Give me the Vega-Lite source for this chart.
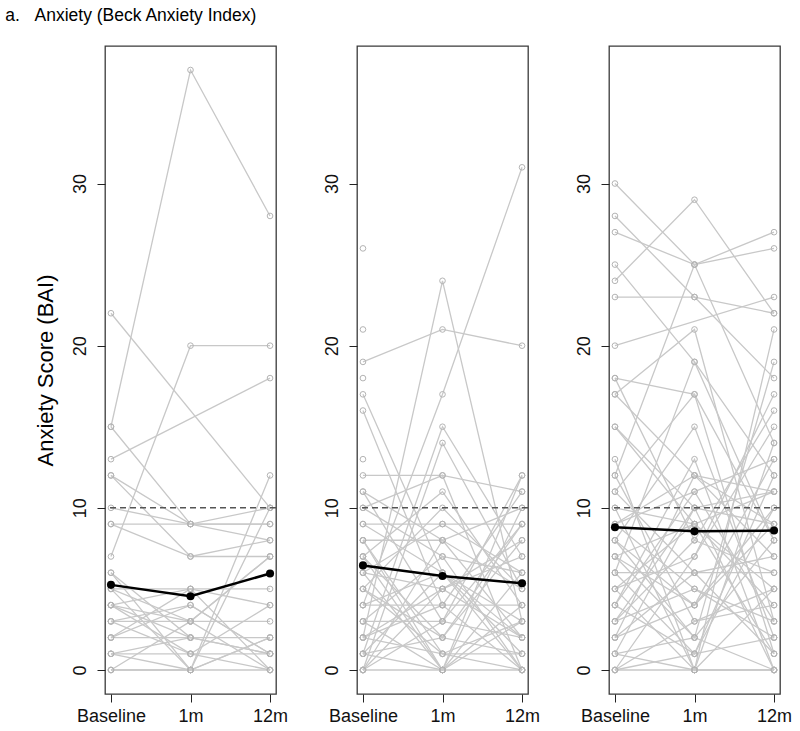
{
  "$schema": "https://vega.github.io/schema/vega-lite/v6.json",
  "background": "white",
  "padding": {"left": 5, "top": 6, "right": 5, "bottom": 5},
  "config": {
    "font": "Liberation Sans",
    "view": {"stroke": "#3a3a3a", "strokeWidth": 1.3},
    "axis": {"grid": false, "domain": false, "tickColor": "#222", "tickSize": 8, "tickWidth": 1, "labelColor": "#111", "labelFontSize": 18, "labelFont": "Liberation Sans", "titleFont": "Liberation Sans"}
  },
  "title": {"text": "a.\u00a0\u00a0\u00a0Anxiety (Beck Anxiety Index)", "anchor": "start", "frame": "bounds", "fontSize": 17.5, "fontWeight": "normal", "color": "#000", "dx": -28, "offset": 21},
  "bounds": "flush",
  "spacing": 81,
  "datasets": {
    "subjects": [
      {"panel": 1, "id": 1, "Baseline": 15, "1m": 37, "12m": 28},
      {"panel": 1, "id": 2, "Baseline": 22, "1m": null, "12m": 10},
      {"panel": 1, "id": 3, "Baseline": 13, "1m": null, "12m": 18},
      {"panel": 1, "id": 4, "Baseline": 7, "1m": 20, "12m": 20},
      {"panel": 1, "id": 5, "Baseline": 15, "1m": 9, "12m": 8},
      {"panel": 1, "id": 6, "Baseline": 12, "1m": 7, "12m": 8},
      {"panel": 1, "id": 7, "Baseline": 10, "1m": 9, "12m": 9},
      {"panel": 1, "id": 8, "Baseline": 9, "1m": 9, "12m": 9},
      {"panel": 1, "id": 9, "Baseline": 6, "1m": 0, "12m": 12},
      {"panel": 1, "id": 10, "Baseline": 5, "1m": 3, "12m": 7},
      {"panel": 1, "id": 11, "Baseline": 4, "1m": 5, "12m": 4},
      {"panel": 1, "id": 12, "Baseline": 4, "1m": 3, "12m": 0},
      {"panel": 1, "id": 13, "Baseline": 3, "1m": 3, "12m": 3},
      {"panel": 1, "id": 14, "Baseline": 2, "1m": 2, "12m": 1},
      {"panel": 1, "id": 15, "Baseline": 1, "1m": 1, "12m": 1},
      {"panel": 1, "id": 16, "Baseline": 0, "1m": 0, "12m": 0},
      {"panel": 1, "id": 17, "Baseline": 1, "1m": 0, "12m": 2},
      {"panel": 1, "id": 18, "Baseline": 2, "1m": 4, "12m": 1},
      {"panel": 1, "id": 19, "Baseline": 4, "1m": 1, "12m": 0},
      {"panel": 1, "id": 20, "Baseline": 5, "1m": 0, "12m": 2},
      {"panel": 1, "id": 21, "Baseline": 6, "1m": 2, "12m": 1},
      {"panel": 1, "id": 22, "Baseline": 0, "1m": 3, "12m": 7},
      {"panel": 1, "id": 23, "Baseline": 3, "1m": 4, "12m": 1},
      {"panel": 1, "id": 24, "Baseline": 2, "1m": 5, "12m": 0},
      {"panel": 1, "id": 25, "Baseline": 1, "1m": 2, "12m": 2},
      {"panel": 1, "id": 26, "Baseline": 12, "1m": 9, "12m": 10},
      {"panel": 1, "id": 27, "Baseline": 0, "1m": 0, "12m": 10},
      {"panel": 1, "id": 28, "Baseline": 9, "1m": 7, "12m": 7},
      {"panel": 1, "id": 29, "Baseline": 3, "1m": 1, "12m": 4},
      {"panel": 1, "id": 30, "Baseline": 4, "1m": 2, "12m": null},
      {"panel": 1, "id": 31, "Baseline": 5, "1m": 5, "12m": 5},

      {"panel": 2, "id": 1, "Baseline": 26, "1m": null, "12m": null},
      {"panel": 2, "id": 2, "Baseline": 21, "1m": null, "12m": null},
      {"panel": 2, "id": 3, "Baseline": 19, "1m": 21, "12m": 20},
      {"panel": 2, "id": 4, "Baseline": 18, "1m": null, "12m": null},
      {"panel": 2, "id": 5, "Baseline": 17, "1m": 6, "12m": 2},
      {"panel": 2, "id": 6, "Baseline": 16, "1m": 4, "12m": 0},
      {"panel": 2, "id": 7, "Baseline": 2, "1m": 24, "12m": 3},
      {"panel": 2, "id": 8, "Baseline": 4, "1m": 17, "12m": 31},
      {"panel": 2, "id": 9, "Baseline": 1, "1m": 15, "12m": 7},
      {"panel": 2, "id": 10, "Baseline": 0, "1m": 14, "12m": 5},
      {"panel": 2, "id": 11, "Baseline": 13, "1m": null, "12m": null},
      {"panel": 2, "id": 12, "Baseline": 12, "1m": 12, "12m": 11},
      {"panel": 2, "id": 13, "Baseline": 11, "1m": 3, "12m": 12},
      {"panel": 2, "id": 14, "Baseline": 10, "1m": 7, "12m": 0},
      {"panel": 2, "id": 15, "Baseline": 9, "1m": 9, "12m": 9},
      {"panel": 2, "id": 16, "Baseline": 8, "1m": 8, "12m": 10},
      {"panel": 2, "id": 17, "Baseline": 8, "1m": 0, "12m": 6},
      {"panel": 2, "id": 18, "Baseline": 7, "1m": 2, "12m": 8},
      {"panel": 2, "id": 19, "Baseline": 7, "1m": 11, "12m": 4},
      {"panel": 2, "id": 20, "Baseline": 6, "1m": 5, "12m": 2},
      {"panel": 2, "id": 21, "Baseline": 6, "1m": 0, "12m": 12},
      {"panel": 2, "id": 22, "Baseline": 5, "1m": 10, "12m": 5},
      {"panel": 2, "id": 23, "Baseline": 4, "1m": 6, "12m": 1},
      {"panel": 2, "id": 24, "Baseline": 4, "1m": 4, "12m": 4},
      {"panel": 2, "id": 25, "Baseline": 3, "1m": 3, "12m": 9},
      {"panel": 2, "id": 26, "Baseline": 3, "1m": 0, "12m": 3},
      {"panel": 2, "id": 27, "Baseline": 3, "1m": 7, "12m": 6},
      {"panel": 2, "id": 28, "Baseline": 2, "1m": 1, "12m": 0},
      {"panel": 2, "id": 29, "Baseline": 2, "1m": 5, "12m": 7},
      {"panel": 2, "id": 30, "Baseline": 1, "1m": 2, "12m": 1},
      {"panel": 2, "id": 31, "Baseline": 1, "1m": 0, "12m": 10},
      {"panel": 2, "id": 32, "Baseline": 0, "1m": 0, "12m": 0},
      {"panel": 2, "id": 33, "Baseline": 0, "1m": 8, "12m": 5},
      {"panel": 2, "id": 34, "Baseline": 0, "1m": 3, "12m": 2},
      {"panel": 2, "id": 35, "Baseline": 5, "1m": 1, "12m": 1},
      {"panel": 2, "id": 36, "Baseline": 9, "1m": 6, "12m": 3},
      {"panel": 2, "id": 37, "Baseline": 10, "1m": 12, "12m": 0},
      {"panel": 2, "id": 38, "Baseline": 6, "1m": 9, "12m": 6},
      {"panel": 2, "id": 39, "Baseline": 2, "1m": 4, "12m": 11},
      {"panel": 2, "id": 40, "Baseline": 11, "1m": 8, "12m": 2},
      {"panel": 2, "id": 41, "Baseline": 0, "1m": 5, "12m": 8},
      {"panel": 2, "id": 42, "Baseline": 7, "1m": 0, "12m": 4},
      {"panel": 2, "id": 43, "Baseline": 5, "1m": 2, "12m": 9},
      {"panel": 2, "id": 44, "Baseline": 1, "1m": 6, "12m": 0},
      {"panel": 2, "id": 45, "Baseline": 8, "1m": 1, "12m": 3},

      {"panel": 3, "id": 1, "Baseline": 30, "1m": 25, "12m": 14},
      {"panel": 3, "id": 2, "Baseline": 24, "1m": 29, "12m": 22},
      {"panel": 3, "id": 3, "Baseline": 28, "1m": 23, "12m": 18},
      {"panel": 3, "id": 4, "Baseline": 27, "1m": 25, "12m": 27},
      {"panel": 3, "id": 5, "Baseline": 25, "1m": 19, "12m": 12},
      {"panel": 3, "id": 6, "Baseline": 23, "1m": 23, "12m": 22},
      {"panel": 3, "id": 7, "Baseline": 20, "1m": null, "12m": 23},
      {"panel": 3, "id": 8, "Baseline": 18, "1m": 17, "12m": 8},
      {"panel": 3, "id": 9, "Baseline": 17, "1m": 21, "12m": 3},
      {"panel": 3, "id": 10, "Baseline": 15, "1m": 10, "12m": 0},
      {"panel": 3, "id": 11, "Baseline": 12, "1m": 25, "12m": 26},
      {"panel": 3, "id": 12, "Baseline": 11, "1m": 17, "12m": 1},
      {"panel": 3, "id": 13, "Baseline": 10, "1m": 9, "12m": 11},
      {"panel": 3, "id": 14, "Baseline": 9, "1m": 11, "12m": 13},
      {"panel": 3, "id": 15, "Baseline": 8, "1m": 15, "12m": 2},
      {"panel": 3, "id": 16, "Baseline": 7, "1m": 2, "12m": 19},
      {"panel": 3, "id": 17, "Baseline": 6, "1m": 6, "12m": 6},
      {"panel": 3, "id": 18, "Baseline": 5, "1m": 0, "12m": 21},
      {"panel": 3, "id": 19, "Baseline": 4, "1m": 13, "12m": 0},
      {"panel": 3, "id": 20, "Baseline": 3, "1m": 8, "12m": 16},
      {"panel": 3, "id": 21, "Baseline": 2, "1m": 4, "12m": 10},
      {"panel": 3, "id": 22, "Baseline": 1, "1m": 0, "12m": 5},
      {"panel": 3, "id": 23, "Baseline": 0, "1m": 0, "12m": 0},
      {"panel": 3, "id": 24, "Baseline": 0, "1m": 7, "12m": 15},
      {"panel": 3, "id": 25, "Baseline": 0, "1m": 3, "12m": 4},
      {"panel": 3, "id": 26, "Baseline": 1, "1m": 10, "12m": 9},
      {"panel": 3, "id": 27, "Baseline": 2, "1m": 12, "12m": 7},
      {"panel": 3, "id": 28, "Baseline": 3, "1m": 5, "12m": 3},
      {"panel": 3, "id": 29, "Baseline": 4, "1m": 1, "12m": 12},
      {"panel": 3, "id": 30, "Baseline": 5, "1m": 9, "12m": 1},
      {"panel": 3, "id": 31, "Baseline": 6, "1m": 19, "12m": 8},
      {"panel": 3, "id": 32, "Baseline": 7, "1m": 4, "12m": 9},
      {"panel": 3, "id": 33, "Baseline": 8, "1m": 2, "12m": 0},
      {"panel": 3, "id": 34, "Baseline": 9, "1m": 5, "12m": 2},
      {"panel": 3, "id": 35, "Baseline": 10, "1m": 0, "12m": 14},
      {"panel": 3, "id": 36, "Baseline": 11, "1m": 6, "12m": 7},
      {"panel": 3, "id": 37, "Baseline": 12, "1m": 3, "12m": 5},
      {"panel": 3, "id": 38, "Baseline": 13, "1m": 0, "12m": 0},
      {"panel": 3, "id": 39, "Baseline": 15, "1m": 9, "12m": 4},
      {"panel": 3, "id": 40, "Baseline": 17, "1m": 12, "12m": 11},
      {"panel": 3, "id": 41, "Baseline": 18, "1m": 8, "12m": 6},
      {"panel": 3, "id": 42, "Baseline": 6, "1m": 1, "12m": 10},
      {"panel": 3, "id": 43, "Baseline": 5, "1m": 7, "12m": 17},
      {"panel": 3, "id": 44, "Baseline": 4, "1m": 11, "12m": 3},
      {"panel": 3, "id": 45, "Baseline": 3, "1m": 10, "12m": 11},
      {"panel": 3, "id": 46, "Baseline": 2, "1m": 6, "12m": 1},
      {"panel": 3, "id": 47, "Baseline": 1, "1m": 2, "12m": 8},
      {"panel": 3, "id": 48, "Baseline": 9, "1m": 12, "12m": 9},
      {"panel": 3, "id": 49, "Baseline": 7, "1m": 9, "12m": 5},
      {"panel": 3, "id": 50, "Baseline": 8, "1m": 4, "12m": 13},
      {"panel": 3, "id": 51, "Baseline": 0, "1m": 1, "12m": 2}
    ],
    "means": [
      {"panel": 1, "visit": "Baseline", "score": 5.25},
      {"panel": 1, "visit": "1m", "score": 4.55},
      {"panel": 1, "visit": "12m", "score": 5.95},
      {"panel": 2, "visit": "Baseline", "score": 6.45},
      {"panel": 2, "visit": "1m", "score": 5.8},
      {"panel": 2, "visit": "12m", "score": 5.35},
      {"panel": 3, "visit": "Baseline", "score": 8.8},
      {"panel": 3, "visit": "1m", "score": 8.55},
      {"panel": 3, "visit": "12m", "score": 8.6}
    ],
    "cutoff": [{"threshold": 10}]
  },
  "hconcat": [
    {
      "width": 171, "height": 648,
      "layer": [
        {
          "data": {"name": "subjects"},
          "transform": [{"filter": "datum.panel == 1"}, {"fold": ["Baseline", "1m", "12m"], "as": ["visit", "score"]}, {"filter": "isValid(datum.score)"}],
          "encoding": {
            "x": {"field": "visit", "type": "ordinal", "sort": ["Baseline", "1m", "12m"], "scale": {"type": "point", "padding": 0.075}, "axis": {"title": null, "labelAngle": 0, "labelPadding": 5}},
            "y": {"field": "score", "type": "quantitative", "scale": {"domain": [-1.48, 38.48], "nice": false, "zero": false}, "axis": {"title": "Anxiety Score (BAI)", "values": [0, 10, 20, 30], "labelAngle": -90, "labelPadding": 8, "titleFontSize": 22, "titleFontWeight": "normal", "titleColor": "#000", "titlePadding": 14}},
            "detail": {"field": "id", "type": "nominal"}
          },
          "layer": [
            {"mark": {"type": "line", "color": "#c8c8c8", "strokeWidth": 1.3}},
            {"mark": {"type": "point", "filled": false, "color": "#b4b4b4", "size": 32, "strokeWidth": 1, "opacity": 1}}
          ]
        },
        {
          "data": {"name": "cutoff"},
          "mark": {"type": "rule", "color": "#555", "strokeDash": [6, 4], "strokeWidth": 1.5},
          "encoding": {"y": {"field": "threshold", "type": "quantitative", "scale": {"domain": [-1.48, 38.48], "nice": false, "zero": false}}}
        },
        {
          "data": {"name": "means"},
          "transform": [{"filter": "datum.panel == 1"}],
          "encoding": {
            "x": {"field": "visit", "type": "ordinal", "sort": ["Baseline", "1m", "12m"], "scale": {"type": "point", "padding": 0.075}},
            "y": {"field": "score", "type": "quantitative", "scale": {"domain": [-1.48, 38.48], "nice": false, "zero": false}}
          },
          "layer": [
            {"mark": {"type": "line", "color": "#000", "strokeWidth": 2.5}},
            {"mark": {"type": "point", "filled": true, "color": "#000", "size": 65, "opacity": 1}}
          ]
        }
      ]
    },
    {
      "width": 171, "height": 648,
      "layer": [
        {
          "data": {"name": "subjects"},
          "transform": [{"filter": "datum.panel == 2"}, {"fold": ["Baseline", "1m", "12m"], "as": ["visit", "score"]}, {"filter": "isValid(datum.score)"}],
          "encoding": {
            "x": {"field": "visit", "type": "ordinal", "sort": ["Baseline", "1m", "12m"], "scale": {"type": "point", "padding": 0.075}, "axis": {"title": null, "labelAngle": 0, "labelPadding": 5}},
            "y": {"field": "score", "type": "quantitative", "scale": {"domain": [-1.48, 38.48], "nice": false, "zero": false}, "axis": {"title": null, "values": [0, 10, 20, 30], "labelAngle": -90, "labelPadding": 8}},
            "detail": {"field": "id", "type": "nominal"}
          },
          "layer": [
            {"mark": {"type": "line", "color": "#c8c8c8", "strokeWidth": 1.3}},
            {"mark": {"type": "point", "filled": false, "color": "#b4b4b4", "size": 32, "strokeWidth": 1, "opacity": 1}}
          ]
        },
        {
          "data": {"name": "cutoff"},
          "mark": {"type": "rule", "color": "#555", "strokeDash": [6, 4], "strokeWidth": 1.5},
          "encoding": {"y": {"field": "threshold", "type": "quantitative", "scale": {"domain": [-1.48, 38.48], "nice": false, "zero": false}}}
        },
        {
          "data": {"name": "means"},
          "transform": [{"filter": "datum.panel == 2"}],
          "encoding": {
            "x": {"field": "visit", "type": "ordinal", "sort": ["Baseline", "1m", "12m"], "scale": {"type": "point", "padding": 0.075}},
            "y": {"field": "score", "type": "quantitative", "scale": {"domain": [-1.48, 38.48], "nice": false, "zero": false}}
          },
          "layer": [
            {"mark": {"type": "line", "color": "#000", "strokeWidth": 2.5}},
            {"mark": {"type": "point", "filled": true, "color": "#000", "size": 65, "opacity": 1}}
          ]
        }
      ]
    },
    {
      "width": 171, "height": 648,
      "layer": [
        {
          "data": {"name": "subjects"},
          "transform": [{"filter": "datum.panel == 3"}, {"fold": ["Baseline", "1m", "12m"], "as": ["visit", "score"]}, {"filter": "isValid(datum.score)"}],
          "encoding": {
            "x": {"field": "visit", "type": "ordinal", "sort": ["Baseline", "1m", "12m"], "scale": {"type": "point", "padding": 0.075}, "axis": {"title": null, "labelAngle": 0, "labelPadding": 5}},
            "y": {"field": "score", "type": "quantitative", "scale": {"domain": [-1.48, 38.48], "nice": false, "zero": false}, "axis": {"title": null, "values": [0, 10, 20, 30], "labelAngle": -90, "labelPadding": 8}},
            "detail": {"field": "id", "type": "nominal"}
          },
          "layer": [
            {"mark": {"type": "line", "color": "#c8c8c8", "strokeWidth": 1.3}},
            {"mark": {"type": "point", "filled": false, "color": "#b4b4b4", "size": 32, "strokeWidth": 1, "opacity": 1}}
          ]
        },
        {
          "data": {"name": "cutoff"},
          "mark": {"type": "rule", "color": "#555", "strokeDash": [6, 4], "strokeWidth": 1.5},
          "encoding": {"y": {"field": "threshold", "type": "quantitative", "scale": {"domain": [-1.48, 38.48], "nice": false, "zero": false}}}
        },
        {
          "data": {"name": "means"},
          "transform": [{"filter": "datum.panel == 3"}],
          "encoding": {
            "x": {"field": "visit", "type": "ordinal", "sort": ["Baseline", "1m", "12m"], "scale": {"type": "point", "padding": 0.075}},
            "y": {"field": "score", "type": "quantitative", "scale": {"domain": [-1.48, 38.48], "nice": false, "zero": false}}
          },
          "layer": [
            {"mark": {"type": "line", "color": "#000", "strokeWidth": 2.5}},
            {"mark": {"type": "point", "filled": true, "color": "#000", "size": 65, "opacity": 1}}
          ]
        }
      ]
    }
  ]
}
